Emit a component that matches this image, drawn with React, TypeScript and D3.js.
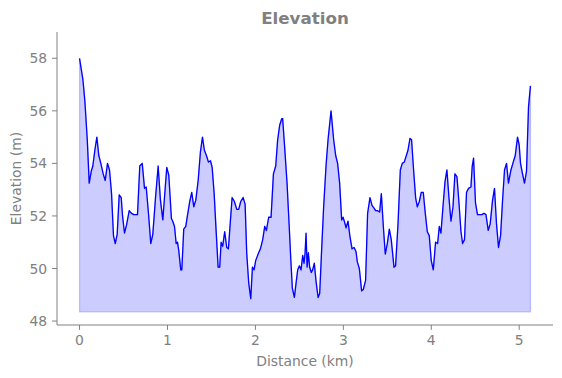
import React from "react";
import * as d3 from "d3";

const distanceKm: number[] = [
  0, 0.038, 0.060, 0.088, 0.110, 0.133, 0.151, 0.174, 0.197, 0.219, 0.242, 0.269, 0.292, 0.318, 0.341, 0.364,
  0.386, 0.406, 0.428, 0.451, 0.474, 0.489, 0.511, 0.534, 0.565, 0.591, 0.617, 0.659, 0.685, 0.713, 0.739,
  0.758, 0.784, 0.810, 0.833, 0.864, 0.894, 0.920, 0.947, 0.966, 0.992, 1.015, 1.045, 1.060, 1.080, 1.099,
  1.114, 1.128, 1.151, 1.163, 1.185, 1.208, 1.231, 1.253, 1.276, 1.299, 1.322, 1.349, 1.375, 1.398, 1.420,
  1.443, 1.466, 1.489, 1.508, 1.531, 1.553, 1.576, 1.594, 1.610, 1.628, 1.651, 1.674, 1.693, 1.713, 1.735,
  1.761, 1.788, 1.810, 1.833, 1.860, 1.883, 1.901, 1.924, 1.947, 1.966, 1.985, 2.003, 2.031, 2.057, 2.083,
  2.106, 2.125, 2.151, 2.178, 2.205, 2.231, 2.253, 2.276, 2.299, 2.310, 2.333, 2.360, 2.383, 2.401, 2.420,
  2.443, 2.466, 2.481, 2.500, 2.519, 2.538, 2.553, 2.565, 2.576, 2.588, 2.602, 2.617, 2.636, 2.651, 2.670,
  2.690, 2.713, 2.731, 2.753, 2.776, 2.803, 2.826, 2.860, 2.890, 2.913, 2.935, 2.958, 2.981, 2.997, 3.011,
  3.031, 3.053, 3.076, 3.099, 3.122, 3.144, 3.159, 3.182, 3.208, 3.227, 3.253, 3.276, 3.303, 3.326, 3.349,
  3.367, 3.390, 3.413, 3.432, 3.455, 3.477, 3.500, 3.523, 3.545, 3.576, 3.594, 3.622, 3.648, 3.670, 3.693,
  3.735, 3.758, 3.776, 3.799, 3.822, 3.841, 3.864, 3.886, 3.909, 3.932, 3.955, 3.977, 4.000, 4.023, 4.049,
  4.072, 4.091, 4.110, 4.133, 4.156, 4.178, 4.201, 4.224, 4.247, 4.269, 4.292, 4.315, 4.338, 4.356, 4.378,
  4.401, 4.424, 4.451, 4.466, 4.481, 4.503, 4.526, 4.549, 4.576, 4.599, 4.622, 4.648, 4.670, 4.697, 4.719,
  4.742, 4.765, 4.788, 4.810, 4.833, 4.856, 4.878, 4.906, 4.928, 4.955, 4.981, 5.000, 5.015, 5.038, 5.060,
  5.083, 5.106, 5.128,
];

const elevationM: number[] = [
  58.0, 57.2, 56.4, 54.9, 53.25, 53.7, 53.9, 54.5, 55.0, 54.3, 54.0, 53.6, 53.35, 54.0, 53.75, 52.85,
  51.25, 50.95, 51.3, 52.8, 52.7, 52.0, 51.35, 51.65, 52.2, 52.1, 52.05, 52.05, 53.9, 54.0, 53.05,
  53.1, 52.1, 50.95, 51.3, 52.7, 53.9, 52.6, 51.85, 52.7, 53.85, 53.55, 51.9, 51.8, 51.6, 50.95,
  51.0, 50.7, 49.95, 49.95, 51.5, 51.6, 52.1, 52.55, 52.9, 52.35, 52.6, 53.35, 54.45, 55.0, 54.5,
  54.3, 54.05, 54.1, 53.85, 52.85, 51.45, 50.05, 50.05, 51.0, 50.85, 51.4, 50.8, 50.75, 51.7, 52.7,
  52.55, 52.25, 52.25, 52.55, 52.7, 52.45, 50.6, 49.45, 48.85, 50.05, 49.95, 50.3, 50.55, 50.75, 51.1,
  51.6, 51.45, 51.95, 51.95, 53.6, 53.9, 54.9, 55.45, 55.7, 55.7, 54.6, 53.25, 51.7, 50.45, 49.25,
  48.9, 49.55, 49.95, 50.1, 49.95, 50.5, 50.2, 50.6, 51.35, 50.05, 50.6, 50.05, 49.85, 49.95, 50.2,
  49.5, 48.9, 49.05, 50.7, 52.35, 53.9, 54.9, 56.0, 54.9, 54.3, 54.0, 53.25, 51.85, 51.95, 51.8,
  51.55, 51.8, 51.2, 50.75, 50.8, 50.65, 50.25, 50.0, 49.15, 49.2, 49.55, 52.1, 52.7, 52.4, 52.3,
  52.2, 52.2, 52.15, 52.85, 51.6, 50.55, 50.95, 51.5, 51.1, 50.05, 50.1, 51.7, 53.75, 54.0, 54.05,
  54.5, 54.95, 54.9, 53.75, 52.7, 52.35, 52.55, 52.9, 52.9, 52.1, 51.4, 51.25, 50.3, 49.95, 51.0,
  50.95, 51.6, 51.35, 52.35, 53.3, 53.75, 52.7, 51.8, 52.35, 53.6, 53.5, 52.5, 51.4, 50.95, 51.1,
  52.9, 53.05, 53.1, 53.9, 54.2, 52.5, 52.05, 52.05, 52.05, 52.1, 52.05, 51.45, 51.7, 52.6, 53.05,
  51.7, 50.8, 51.25, 52.55, 53.75, 54.0, 53.25, 53.75, 54.0, 54.3, 55.0, 54.7, 54.0, 53.6, 53.25,
  53.7, 56.15, 56.95,
];

const xTicks: number[] = [0, 1, 2, 3, 4, 5];
const yTicks: number[] = [48, 50, 52, 54, 56, 58];
const titleText = "Elevation";
const xLabel = "Distance (km)";
const yLabel = "Elevation (m)";

export default function App() {
  const W = 562, H = 378;
  const left = 57, right = 553, top = 32, bottom = 325;
  const gray = "#808080";
  const font = "'DejaVu Sans', sans-serif";
  const fs = 13.9;

  const data = distanceKm.map((d, i) => ({ d, e: elevationM[i] }));
  const xMin = d3.min(distanceKm)!, xMax = d3.max(distanceKm)!;
  const xPad = (xMax - xMin) * 0.05;
  const eMin = d3.min(elevationM)!, eMax = d3.max(elevationM)!;
  const base = eMin - 0.5;

  const x = d3.scaleLinear().domain([xMin - xPad, xMax + xPad]).range([left, right]);
  const y = d3.scaleLinear().domain([eMin - 1, eMax + 1]).range([bottom, top]);

  const line = d3.line<{ d: number; e: number }>().x(p => x(p.d)).y(p => y(p.e));
  const area = d3.area<{ d: number; e: number }>().x(p => x(p.d)).y0(() => y(base)).y1(p => y(p.e));

  return (
    <svg width={W} height={H} style={{ position: "absolute", left: 0, top: 0, background: "#fff" }}>
      <path d={area(data)!} fill="blue" fillOpacity={0.2} stroke="blue" strokeOpacity={0.2} strokeWidth={1.3} />
      <path d={line(data)!} fill="none" stroke="blue" strokeWidth={1.3} strokeLinejoin="round" />
      <line x1={left} x2={left} y1={top} y2={bottom} stroke={gray} strokeWidth={1} />
      <line x1={left} x2={right} y1={bottom} y2={bottom} stroke={gray} strokeWidth={1} />
      {xTicks.map(t => (
        <g key={"x" + t}>
          <line x1={x(t)} x2={x(t)} y1={bottom} y2={bottom + 4.9} stroke={gray} strokeWidth={1} />
          <text x={x(t)} y={bottom + 20} textAnchor="middle" fill={gray} fontFamily={font} fontSize={fs}>{t}</text>
        </g>
      ))}
      {yTicks.map(t => (
        <g key={"y" + t}>
          <line x1={left - 4.9} x2={left} y1={y(t)} y2={y(t)} stroke={gray} strokeWidth={1} />
          <text x={left - 9.8} y={y(t)} dy="0.36em" textAnchor="end" fill={gray} fontFamily={font} fontSize={fs}>{t}</text>
        </g>
      ))}
      <text x={(left + right) / 2} y={366} textAnchor="middle" fill={gray} fontFamily={font} fontSize={fs}>{xLabel}</text>
      <text transform={`translate(21,${(top + bottom) / 2}) rotate(-90)`} textAnchor="middle" fill={gray} fontFamily={font} fontSize={fs}>{yLabel}</text>
      <text x={(left + right) / 2} y={24} textAnchor="middle" fill={gray} fontFamily={font} fontSize={16.7} fontWeight="bold">{titleText}</text>
    </svg>
  );
}
